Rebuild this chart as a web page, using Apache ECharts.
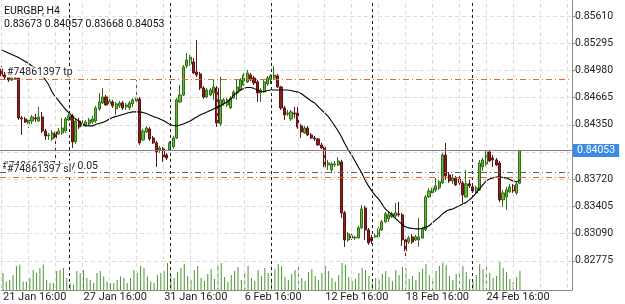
<!DOCTYPE html>
<html>
<head>
<meta charset="utf-8">
<script src="https://cdn.jsdelivr.net/npm/echarts@6.0.0/dist/echarts.min.js"></script>
<style>
  html, body { margin: 0; padding: 0; background: #fff; }
  #chart { width: 625px; height: 304px; }
</style>
</head>
<body>
<div id="chart"></div>
<script>
// EURGBP H4, [open, close, low, high]
const candles = [
  [0.84997,0.84916,0.84892,0.85032],[0.84927,0.84904,0.84881,0.84962],[0.84904,0.84869,0.84846,0.84927],
  [0.84869,0.84892,0.84857,0.84916],[0.84892,0.84888,0.84869,0.84916],[0.84892,0.84429,0.84406,0.84916],
  [0.84429,0.84418,0.84232,0.84453],[0.84418,0.84383,0.84371,0.84441],[0.84360,0.84406,0.84313,0.84418],
  [0.84394,0.84441,0.84360,0.84464],[0.84429,0.84418,0.84383,0.84476],[0.84394,0.84441,0.84383,0.84557],
  [0.84441,0.84278,0.84255,0.84499],[0.84278,0.84221,0.84175,0.84302],[0.84221,0.84232,0.84175,0.84255],
  [0.84186,0.84255,0.84163,0.84290],[0.84267,0.84197,0.83920,0.84278],[0.84244,0.84278,0.84232,0.84313],
  [0.84255,0.84313,0.84232,0.84429],[0.84278,0.84418,0.84255,0.84441],[0.84406,0.84453,0.84394,0.84476],
  [0.84453,0.84152,0.84082,0.84476],[0.84152,0.84394,0.84129,0.84418],[0.84394,0.84325,0.84302,0.84429],
  [0.84337,0.84360,0.84325,0.84406],[0.84337,0.84383,0.84325,0.84406],[0.84360,0.84406,0.84337,0.84429],
  [0.84383,0.84418,0.84360,0.84453],[0.84394,0.84545,0.84371,0.84569],[0.84534,0.84615,0.84510,0.84718],
  [0.84603,0.84672,0.84592,0.84776],[0.84672,0.84580,0.84569,0.84695],[0.84592,0.84626,0.84569,0.84649],
  [0.84615,0.84569,0.84545,0.84638],[0.84534,0.84592,0.84464,0.84615],[0.84569,0.84603,0.84545,0.84626],
  [0.84603,0.84545,0.84522,0.84626],[0.84557,0.84580,0.84522,0.84603],[0.84545,0.84603,0.84522,0.84626],
  [0.84592,0.84638,0.84557,0.84660],[0.84626,0.84660,0.84592,0.84869],[0.84649,0.84140,0.84117,0.84672],
  [0.84175,0.84278,0.84163,0.84302],[0.84267,0.84313,0.84255,0.84337],[0.84302,0.84186,0.84163,0.84325],
  [0.84197,0.84140,0.84129,0.84221],[0.84140,0.84036,0.83862,0.84163],[0.84059,0.84082,0.84024,0.84106],
  [0.84071,0.83978,0.83920,0.84094],[0.84001,0.83966,0.83943,0.84024],[0.84059,0.84140,0.84047,0.84163],
  [0.84094,0.84197,0.84071,0.84221],[0.84197,0.84638,0.84186,0.84660],[0.84615,0.84695,0.84603,0.84811],
  [0.84695,0.85020,0.84684,0.85043],[0.85032,0.85101,0.85008,0.85181],[0.85055,0.85135,0.85032,0.85158],
  [0.85078,0.84950,0.84939,0.85123],[0.84962,0.84927,0.84904,0.85332],[0.84939,0.84776,0.84753,0.84962],
  [0.84776,0.84672,0.84649,0.84800],[0.84672,0.84753,0.84660,0.84776],[0.84695,0.84753,0.84684,0.84776],
  [0.84718,0.84788,0.84638,0.84869],[0.84776,0.84371,0.84325,0.84800],[0.84360,0.84638,0.84337,0.84904],
  [0.84592,0.84638,0.84569,0.84660],[0.84580,0.84638,0.84557,0.84660],[0.84545,0.84660,0.84534,0.84684],
  [0.84660,0.84730,0.84649,0.84753],[0.84718,0.84788,0.84638,0.84869],[0.84753,0.84869,0.84741,0.84892],
  [0.84811,0.84927,0.84800,0.84950],[0.84846,0.84950,0.84834,0.84985],[0.84927,0.84869,0.84857,0.84950],
  [0.84892,0.84834,0.84811,0.84916],[0.84846,0.84718,0.84615,0.84869],[0.84718,0.84753,0.84615,0.84776],
  [0.84730,0.84846,0.84718,0.84869],[0.84823,0.84892,0.84800,0.84916],[0.84869,0.84916,0.84823,0.84939],
  [0.84892,0.84927,0.84869,0.85032],[0.84916,0.84788,0.84776,0.84939],[0.84788,0.84545,0.84522,0.84800],
  [0.84545,0.84464,0.84406,0.84569],[0.84476,0.84487,0.84453,0.84522],[0.84418,0.84499,0.84394,0.84522],
  [0.84487,0.84476,0.84429,0.84557],[0.84487,0.84325,0.84302,0.84557],[0.84337,0.84267,0.84197,0.84360],
  [0.84255,0.84313,0.84244,0.84337],[0.84313,0.84232,0.84221,0.84337],[0.84232,0.84197,0.84186,0.84255],
  [0.84197,0.84186,0.84163,0.84221],[0.84186,0.84117,0.84106,0.84197],[0.84117,0.84082,0.84071,0.84140],
  [0.84094,0.83862,0.83850,0.84106],[0.83885,0.83908,0.83827,0.83943],[0.83827,0.83897,0.83792,0.83920],
  [0.83885,0.83897,0.83862,0.83931],[0.83885,0.83931,0.83874,0.83978],[0.83920,0.83330,0.83272,0.83943],
  [0.83330,0.83017,0.82936,0.83353],[0.83017,0.83087,0.82994,0.83110],[0.83064,0.83040,0.83017,0.83087],
  [0.83040,0.83046,0.83017,0.83064],[0.83040,0.83156,0.83029,0.83180],[0.83156,0.83376,0.83145,0.83422],
  [0.83387,0.83133,0.83017,0.83411],[0.83133,0.82982,0.82959,0.83156],[0.83040,0.83005,0.82971,0.83075],
  [0.83052,0.83064,0.83040,0.83087],[0.83052,0.83145,0.83040,0.83168],[0.83133,0.83226,0.83121,0.83249],
  [0.83226,0.83319,0.83214,0.83342],[0.83261,0.83307,0.83226,0.83353],[0.83284,0.83319,0.83272,0.83342],
  [0.83296,0.83330,0.83272,0.83445],[0.83319,0.83307,0.83284,0.83457],[0.83307,0.83017,0.82948,0.83330],
  [0.83017,0.82890,0.82809,0.83052],[0.82994,0.83040,0.82971,0.83064],[0.83052,0.82994,0.82971,0.83087],
  [0.83017,0.83052,0.83005,0.83075],[0.83017,0.83052,0.82936,0.83272],[0.83040,0.83145,0.83029,0.83168],
  [0.83133,0.83515,0.83121,0.83538],[0.83515,0.83584,0.83503,0.83619],[0.83561,0.83619,0.83538,0.83643],
  [0.83596,0.83643,0.83573,0.83734],[0.83619,0.83689,0.83596,0.83712],[0.83677,0.84001,0.83666,0.84024],
  [0.84001,0.83758,0.83712,0.84140],[0.83769,0.83700,0.83677,0.83804],[0.83700,0.83734,0.83666,0.83781],
  [0.83734,0.83654,0.83643,0.83758],[0.83723,0.83677,0.83654,0.83758],[0.83677,0.83538,0.83445,0.83700],
  [0.83515,0.83666,0.83503,0.83827],[0.83666,0.83643,0.83619,0.83712],[0.83631,0.83584,0.83561,0.83654],
  [0.83561,0.83619,0.83550,0.83643],[0.83596,0.83908,0.83584,0.83943],[0.83862,0.83943,0.83815,0.83966],
  [0.83897,0.84036,0.83874,0.84059],[0.84036,0.83931,0.83920,0.84059],[0.83966,0.83943,0.83862,0.84001],
  [0.83943,0.83885,0.83874,0.83966],[0.83908,0.83480,0.83457,0.83931],[0.83480,0.83561,0.83399,0.83596],
  [0.83515,0.83596,0.83365,0.83631],[0.83573,0.83631,0.83561,0.83666],[0.83643,0.83584,0.83561,0.83666],
  [0.83561,0.83666,0.83538,0.83689],[0.83673,0.84053,0.83668,0.84057]
];

// moving average line
const maValues = [
  0.85216,0.85199,0.85181,0.85164,0.85147,0.85129,0.85106,0.85083,0.85060,0.85032,
  0.85008,0.84973,0.84927,0.84869,0.84811,0.84730,0.84672,0.84626,0.84574,0.84528,
  0.84487,0.84447,0.84418,0.84389,0.84360,0.84342,0.84337,0.84337,0.84354,0.84365,
  0.84377,0.84394,0.84418,0.84435,0.84447,0.84458,0.84470,0.84481,0.84493,0.84499,
  0.84499,0.84499,0.84493,0.84481,0.84464,0.84447,0.84435,0.84418,0.84400,0.84377,
  0.84354,0.84342,0.84337,0.84348,0.84360,0.84377,0.84394,0.84418,0.84441,0.84464,
  0.84481,0.84499,0.84516,0.84534,0.84557,0.84569,0.84592,0.84615,0.84643,0.84695,
  0.84724,0.84753,0.84771,0.84782,0.84782,0.84771,0.84753,0.84736,0.84736,0.84747,
  0.84753,0.84753,0.84753,0.84753,0.84753,0.84753,0.84747,0.84736,0.84730,0.84712,
  0.84684,0.84655,0.84626,0.84603,0.84563,0.84522,0.84487,0.84447,0.84394,0.84337,
  0.84278,0.84209,0.84129,0.84059,0.84001,0.83931,0.83862,0.83792,0.83712,0.83643,
  0.83584,0.83532,0.83492,0.83434,0.83376,0.83342,0.83307,0.83266,0.83232,0.83197,
  0.83168,0.83156,0.83150,0.83145,0.83145,0.83150,0.83162,0.83180,0.83214,0.83249,
  0.83278,0.83319,0.83347,0.83365,0.83376,0.83393,0.83411,0.83434,0.83451,0.83480,
  0.83515,0.83561,0.83608,0.83654,0.83700,0.83723,0.83734,0.83746,0.83746,0.83740,
  0.83734,0.83717,0.83700,0.83689,0.83712
];

// tick volume
const volumes = [
  1700,850,1000,1500,2400,2550,850,850,1200,2000,1700,2200,2550,1000,700,700,1900,2000,2200,1200,
  700,500,1900,1700,2000,1200,1000,700,1700,1900,1360,850,700,700,1000,1360,1200,700,1200,2000,
  1700,2400,2200,1360,850,700,1500,1700,1900,2700,1500,1200,
  1800,2200,2600,1400,1000,2000,2400,1200,900,1600,2100,1100,2500,2700,1300,800,1500,1900,2300,1000,
  1800,2400,1200,900,2000,1400,2200,1700,800,2100,2600,2400,1300,1000,1600,2000,2300,1200,900,1800,
  2100,1400,1000,1700,2400,1900,1200,800,1500,2700,2500,1300,900,1100,1700,2200,2000,1400,700,1200,
  1000,1600,1900,1300,900,2000,1500,2300,2200,1100,1400,1000,1800,2100,2600,1500,1200,1900,2400,2700,
  2500,1400,1000,1600,2000,2400,1800,1100,900,1500,2600,2100,2500,1700,1200,1400,2800,2200,1800,1100,
  800,1300,1900
];

const timeLabels = ['21 Jan 16:00', '27 Jan 16:00', '31 Jan 16:00', '6 Feb 16:00', '12 Feb 16:00', '18 Feb 16:00', '24 Feb 16:00'];
const labelStep = 24;           // bars between time labels
const slotCount = 170;          // bar slots incl. empty space on the right
const weekStarts = [20, 50, 80, 110, 140];
const priceTicks = { min: 0.82460, max: 0.85795, step: 0.00315 };

const order = { id: '#74861397', lots: '0.05', entry: 0.83798, tp: 0.84875, sl: 0.83740 };

const categories = Array.from({ length: slotCount }, (_, i) => String(i));
const last = candles[candles.length - 1];
// MT header shows O H L C
const ohlcLine = [last[0], last[3], last[2], last[1]].map(v => v.toFixed(5)).join(' ');

const font = 'Roboto';
const gridLineStyle = { color: '#dcdcdc', type: [4, 3], width: 1 };
const dashDot = [6, 3, 1, 3];

const vGrid = [];
for (let i = 0; i < slotCount; i += 8) vGrid.push({ xAxis: i, lineStyle: gridLineStyle });
weekStarts.forEach(i => vGrid.push({ xAxis: i, lineStyle: { color: '#1a1a1a', type: [3, 3], width: 1 } }));

// one helper series per horizontal level so each keeps its own colour
const levelSeries = (name, value, color, type, label) => ({
  name, type: 'line', xAxisIndex: 0, yAxisIndex: 0, data: [], z: 5, silent: true,
  color, itemStyle: { color }, lineStyle: { color },
  markLine: {
    silent: true, symbol: ['none', 'none'], precision: 5,
    lineStyle: { color, type, width: 1, opacity: 1 },
    label,
    data: [{ yAxis: value, lineStyle: { color, type, width: 1 } }]
  }
});

const orderLabel = (text, dist) => ({
  show: true, position: 'insideStartTop', formatter: text, distance: dist,
  color: '#222', fontSize: 10.5, fontFamily: font, backgroundColor: '#fff', padding: [0, 1, 0, 1]
});

const chart = echarts.init(document.getElementById('chart'), null, { renderer: 'canvas' });

chart.setOption({
  animation: false,
  backgroundColor: '#fff',
  title: [
    { text: 'EURGBP, H4', left: 4, top: 6, padding: 0,
      textStyle: { fontSize: 10.5, fontWeight: 'normal', color: '#111', fontFamily: font } },
    { text: ohlcLine, left: 4, top: 19, padding: 0,
      textStyle: { fontSize: 10.5, fontWeight: 'normal', color: '#111', fontFamily: font } }
  ],
  grid: [
    { left: 0, width: 572, top: 0, bottom: 16 },
    { left: 0, width: 572, top: 258, bottom: 14 }
  ],
  xAxis: [
    { gridIndex: 0, type: 'category', data: categories, boundaryGap: true,
      axisLine: { show: false }, axisTick: { show: false }, axisLabel: { show: false }, splitLine: { show: false } },
    { gridIndex: 1, type: 'category', data: categories, boundaryGap: true,
      axisLine: { show: true, lineStyle: { color: '#8c8c8c' } }, axisTick: { show: false },
      splitLine: { show: false },
      axisLabel: {
        interval: (idx) => idx % labelStep === 0 && idx / labelStep < timeLabels.length,
        formatter: (v, idx) => timeLabels[idx / labelStep] || '',
        align: 'left', margin: 2, color: '#222', fontSize: 11, fontFamily: font
      } }
  ],
  yAxis: [
    { gridIndex: 0, type: 'value', position: 'right',
      min: priceTicks.min, max: priceTicks.max, interval: priceTicks.step,
      axisLine: { show: true, lineStyle: { color: '#8c8c8c' } },
      axisTick: { show: true, length: 3, lineStyle: { color: '#8c8c8c' } },
      axisLabel: { showMinLabel: false, showMaxLabel: false, margin: 3,
        formatter: v => v.toFixed(5), color: '#222', fontSize: 10.5, fontFamily: font },
      splitLine: { show: true, showMinLine: false, showMaxLine: false, lineStyle: gridLineStyle } },
    { gridIndex: 1, type: 'value', position: 'right', min: 0, max: 3200,
      axisLine: { show: true, lineStyle: { color: '#8c8c8c' } }, axisTick: { show: false },
      axisLabel: { show: false }, splitLine: { show: false } }
  ],
  series: [
    { name: 'grid', type: 'line', xAxisIndex: 0, yAxisIndex: 0, data: [], z: 1, silent: true,
      markLine: { silent: true, symbol: ['none', 'none'], label: { show: false }, data: vGrid } },
    { name: 'EURGBP', type: 'candlestick', xAxisIndex: 0, yAxisIndex: 0, data: candles, z: 3,
      barWidth: 2.6,
      itemStyle: { color: '#6db43f', color0: '#8e1d1d', borderColor: '#2f7016', borderColor0: '#5e1212', borderWidth: 1 } },
    { name: 'MA', type: 'line', xAxisIndex: 0, yAxisIndex: 0, data: maValues, z: 4,
      smooth: 0.3, showSymbol: false, lineStyle: { color: '#000', width: 1.1 } },
    levelSeries('tp', order.tp, '#e8672a', dashDot, orderLabel(order.id + ' tp', [6, 2])),
    levelSeries('buy', order.entry, '#4f6f4f', dashDot, orderLabel(order.id + ' buy ' + order.lots, [1, 1])),
    levelSeries('sl', order.sl, '#e8672a', dashDot, orderLabel(order.id + ' sl', [6, 3])),
    levelSeries('bid', last[1], '#8a7a86', 'solid', {
      show: true, position: 'end', distance: 1, formatter: last[1].toFixed(5),
      color: '#fff', fontSize: 10.5, fontFamily: font, backgroundColor: '#3d8ae6', padding: [1, 4, 1, 4]
    }),
    { name: 'Volume', type: 'bar', xAxisIndex: 1, yAxisIndex: 1, data: volumes, barWidth: 1,
      itemStyle: { color: '#4a9432' }, z: 2 }
  ]
});
</script>
</body>
</html>
